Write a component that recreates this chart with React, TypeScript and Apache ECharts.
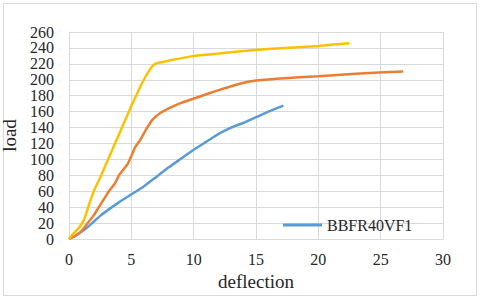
import React, { useEffect, useRef } from "react";
import * as echarts from "echarts";

const blueDef = [0, 0.5, 1, 1.5, 2, 2.5, 3, 4, 5, 6, 7, 8, 9, 10, 11, 12, 13, 14, 15, 16, 17.2];
const blueLoad = [0, 4, 9, 15, 22, 29, 35, 46, 56, 66, 78, 90, 101, 112, 122, 132, 140, 146, 153, 160, 167.5];

const orangeDef = [0, 0.5, 1.0, 1.5, 2.0, 2.4, 2.8, 3.2, 3.7, 4.0, 4.3, 4.7, 5.0, 5.3, 5.7, 6.2, 6.7, 7.3, 8.0, 9.0, 10.5, 12, 13.7, 15, 17, 20, 23, 26.8];
const orangeLoad = [0, 4, 10, 20, 30, 40, 50, 60, 70, 80, 86, 94, 104, 115, 124, 138, 150, 158, 164, 171, 179, 187, 195, 199, 201.5, 204.5, 207.5, 210.5];

const yellowDef = [0, 0.3, 0.8, 1.2, 1.5, 1.8, 2.1, 2.5, 3.0, 3.5, 4.0, 4.5, 5.0, 5.5, 6.0, 6.5, 6.8, 7.2, 8, 10, 12, 14, 16, 18, 20, 22.5];
const yellowLoad = [0, 6, 14, 24, 38, 52, 64, 77, 95, 113, 131, 149, 167, 184, 200, 213, 219, 221.5, 224, 230, 233, 236, 238.5, 240.5, 242.5, 246];

const seriesNames = ["BBFR40VF1", "Series2", "Series3"];
const xTicks = { min: 0, max: 30, interval: 5 };
const yTicks = { min: 0, max: 260, interval: 20 };

const zip = (a: number[], b: number[]) => a.map((v, i) => [v, b[i]]);

export default function App() {
  const ref = useRef<HTMLDivElement>(null);
  useEffect(() => {
    if (!ref.current) return;
    const chart = echarts.init(ref.current, null, { renderer: "svg" });
    const font = "Liberation Serif";
    const gridColor = "#d9d9d9";
    const mk = (name: string, data: number[][], color: string) => ({
      name,
      type: "line",
      data,
      smooth: 0.15,
      showSymbol: false,
      symbol: "none",
      lineStyle: { color, width: 2.5 },
      itemStyle: { color },
    });
    chart.setOption({
      animation: false,
      backgroundColor: "#ffffff",
      textStyle: { fontFamily: font },
      grid: { left: 69, right: 37, top: 32, bottom: 60, containLabel: false, outerBoundsMode: "none" },
      xAxis: {
        type: "value",
        ...xTicks,
        name: "deflection",
        nameLocation: "middle",
        nameGap: 32,
        nameTextStyle: { fontFamily: font, fontSize: 19, color: "#262626" },
        axisLine: { lineStyle: { color: gridColor, width: 1 } },
        axisTick: { show: false },
        axisLabel: { fontFamily: font, fontSize: 16, color: "#262626", margin: 12 },
        splitLine: { show: true, lineStyle: { color: gridColor, width: 1 } },
      },
      yAxis: {
        type: "value",
        ...yTicks,
        name: "load",
        nameLocation: "middle",
        nameGap: 42,
        nameTextStyle: { fontFamily: font, fontSize: 19, color: "#262626" },
        axisLine: { show: true, lineStyle: { color: gridColor, width: 1 } },
        axisTick: { show: false },
        axisLabel: { fontFamily: font, fontSize: 16, color: "#262626", margin: 15 },
        splitLine: { show: true, lineStyle: { color: gridColor, width: 1 } },
      },
      legend: {
        data: [seriesNames[0]],
        left: 278,
        top: 212,
        icon: "rect",
        itemWidth: 39,
        itemHeight: 3,
        textStyle: { fontFamily: font, fontSize: 16, color: "#262626" },
      },
      graphic: [
        {
          type: "rect",
          shape: { x: 3.5, y: 3.5, width: 473, height: 292 },
          style: { fill: "none", stroke: gridColor, lineWidth: 1 },
          silent: true,
        },
      ],
      series: [
        mk(seriesNames[0], zip(blueDef, blueLoad), "#5B9BD5"),
        mk(seriesNames[1], zip(orangeDef, orangeLoad), "#ED7D31"),
        mk(seriesNames[2], zip(yellowDef, yellowLoad), "#FFC000"),
      ],
    });
    return () => chart.dispose();
  }, []);
  return (
    <div
      ref={ref}
      style={{ position: "fixed", left: 0, top: 0, width: 480, height: 299 }}
    />
  );
}
